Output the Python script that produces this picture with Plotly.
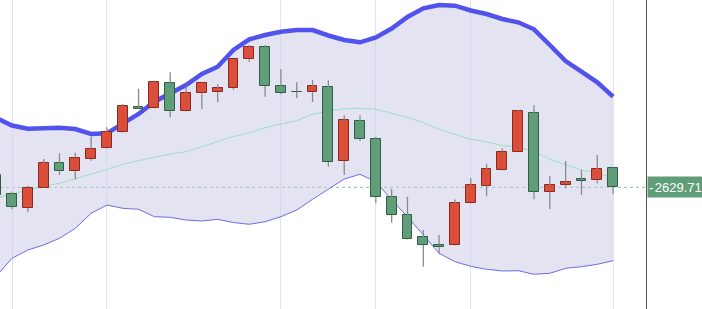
import plotly.graph_objects as go

# candle index (-1 is the partially visible first candle)
idx = list(range(-1, 39))

opens = [2635.86, 2626.21, 2619.51, 2629.61, 2641.71, 2637.71, 2644.01, 2649.51, 2657.51, 2669.86,
         2669.21, 2682.01, 2667.71, 2676.71, 2677.21, 2679.21, 2693.71, 2699.71, 2680.51, 2677.61,
         2677.21, 2679.86, 2642.86, 2662.86, 2653.71, 2625.01, 2615.86, 2604.71, 2601.11, 2600.86,
         2621.71, 2630.51, 2638.26, 2647.36, 2666.71, 2627.51, 2630.71, 2633.71, 2633.51, 2639.51]
highs = [2637.36, 2627.51, 2630.51, 2643.86, 2646.71, 2647.01, 2655.01, 2659.71, 2671.36, 2679.01,
         2683.01, 2687.21, 2680.01, 2682.36, 2681.21, 2693.86, 2700.86, 2700.86, 2688.71, 2682.21,
         2683.36, 2683.21, 2665.71, 2665.71, 2655.01, 2628.86, 2625.01, 2608.36, 2605.86, 2623.61,
         2634.21, 2641.36, 2649.21, 2668.36, 2670.86, 2635.21, 2642.86, 2638.36, 2645.86, 2640.01]
lows = [2624.36, 2618.71, 2617.21, 2629.36, 2635.86, 2633.71, 2643.01, 2649.11, 2657.11, 2668.86,
        2669.06, 2664.71, 2667.56, 2668.71, 2672.36, 2678.36, 2692.51, 2675.01, 2676.21, 2674.21,
        2672.36, 2640.01, 2635.86, 2652.86, 2621.71, 2612.01, 2603.61, 2590.01, 2596.36, 2600.61,
        2621.56, 2625.36, 2638.11, 2647.21, 2623.71, 2618.86, 2629.21, 2625.86, 2631.71, 2626.21]
closes = [2625.86, 2620.01, 2629.56, 2641.71, 2637.71, 2644.51, 2649.01, 2657.51, 2670.36, 2669.01,
          2682.51, 2667.71, 2676.71, 2682.11, 2679.36, 2693.71, 2699.71, 2680.36, 2676.71, 2677.41,
          2680.36, 2642.36, 2663.36, 2653.71, 2625.01, 2615.86, 2603.86, 2600.86, 2599.71, 2621.71,
          2630.86, 2638.86, 2647.51, 2667.86, 2627.51, 2630.86, 2632.51, 2632.86, 2638.86, 2629.71]

upper_band = [2664.36, 2660.61, 2659.01, 2659.51, 2659.51, 2658.86, 2656.36, 2656.71, 2661.36, 2666.36,
              2672.51, 2676.71, 2680.86, 2686.36, 2690.01, 2698.36, 2703.71, 2705.86, 2707.51, 2708.36,
              2708.36, 2705.61, 2703.36, 2702.21, 2704.61, 2709.11, 2714.86, 2719.21, 2720.86, 2720.51,
              2718.11, 2716.36, 2713.86, 2712.21, 2708.71, 2700.86, 2692.86, 2687.51, 2682.21, 2675.01]
middle_band = [2624.36, 2626.36, 2628.01, 2630.36, 2631.71, 2634.21, 2636.36, 2638.71, 2641.21, 2643.01,
               2644.71, 2646.36, 2647.51, 2650.01, 2652.51, 2655.11, 2657.01, 2659.51, 2661.36, 2663.01,
               2666.21, 2667.86, 2669.01, 2669.21, 2668.71, 2666.71, 2664.71, 2662.01, 2658.71, 2656.21,
               2653.71, 2652.51, 2650.51, 2650.01, 2647.51, 2643.71, 2640.86, 2638.36, 2636.71, 2634.51]
lower_band = [2585.36, 2594.21, 2598.36, 2600.86, 2604.21, 2609.21, 2616.71, 2620.86, 2619.21, 2618.71,
              2615.01, 2614.71, 2613.36, 2612.86, 2613.71, 2612.11, 2611.21, 2612.51, 2615.01, 2618.36,
              2623.71, 2628.71, 2633.86, 2636.21, 2632.51, 2623.36, 2615.01, 2605.86, 2596.71, 2592.51,
              2590.21, 2588.71, 2587.86, 2588.01, 2586.21, 2586.71, 2589.21, 2590.01, 2591.21, 2593.01]

grid_idx = [0, 6, 17, 23, 29, 38]
last_price = 2629.71
last_label = "2629.710"

UP_FILL, UP_LINE = "#db4f3a", "#8a2a1f"
DN_FILL, DN_LINE = "#5f9e79", "#2f5e43"

X_RANGE = [-0.76, 40.08]
Y_RANGE = [2723.36 - 309 / 2, 2723.36]

fig = go.Figure()

# Bollinger band fill (base subplot)
fig.add_trace(go.Scatter(x=idx, y=lower_band, mode="lines",
                         line=dict(color="#6d6de6", width=1), hoverinfo="skip"))
fig.add_trace(go.Scatter(x=idx, y=upper_band, mode="lines", fill="tonexty",
                         fillcolor="rgba(200,200,228,0.5)",
                         line=dict(color="#5252ec", width=4.5), hoverinfo="skip"))
fig.add_trace(go.Scatter(x=idx, y=middle_band, mode="lines",
                         line=dict(color="#9edfc6", width=1), hoverinfo="skip"))

# wicks (overlay subplot, above the bands); split around the body
wx, wy = [], []
for i, o, h, l, c in zip(idx, opens, highs, lows, closes):
    top, bot = max(o, c), min(o, c)
    wx += [i, i, None, i, i, None]
    wy += [top, h, None, l, bot, None]
fig.add_trace(go.Scatter(x=wx, y=wy, mode="lines", xaxis="x2", yaxis="y2",
                         line=dict(color="#8a8a8a", width=1.3), hoverinfo="skip"))

# bodies
base, height, fills, lines = [], [], [], []
for o, c in zip(opens, closes):
    base.append(min(o, c))
    height.append(max(abs(c - o), 0.15))
    up = c >= o
    fills.append(UP_FILL if up else DN_FILL)
    lines.append(UP_LINE if up else DN_LINE)
fig.add_trace(go.Bar(x=idx, y=height, base=base, width=0.62, xaxis="x2", yaxis="y2",
                     marker=dict(color=fills, line=dict(color=lines, width=1)),
                     hoverinfo="skip"))

fig.add_shape(type="line", xref="paper", x0=0, x1=1, yref="y", y0=last_price, y1=last_price,
              line=dict(color="#86c2a6", width=1, dash="dot"), layer="between")

fig.add_annotation(xref="paper", x=1, xanchor="left", xshift=1, yref="y", y=last_price,
                   yanchor="middle", text=last_label, showarrow=False,
                   font=dict(family="Liberation Sans, Arial", size=13, color="white"),
                   bgcolor="#5f9e79", borderpad=1, width=60, height=18, align="right")
fig.add_annotation(xref="paper", x=1, xanchor="left", xshift=1, yref="y", y=last_price,
                   yanchor="middle", text="-", showarrow=False,
                   font=dict(family="Liberation Sans, Arial", size=13, color="white"))

fig.update_layout(
    width=702, height=309,
    margin=dict(l=0, r=56, t=0, b=0),
    paper_bgcolor="white", plot_bgcolor="white",
    showlegend=False, bargap=0, barmode="overlay",
    xaxis=dict(range=X_RANGE, tickvals=grid_idx, showticklabels=False,
               showgrid=True, gridcolor="#dfe6ee", gridwidth=1, zeroline=False,
               showline=False, ticks=""),
    yaxis=dict(range=Y_RANGE, side="right", showgrid=False,
               showticklabels=False, zeroline=False, showline=True,
               linecolor="#555555", linewidth=1, ticks=""),
    xaxis2=dict(range=X_RANGE, overlaying="x", visible=False),
    yaxis2=dict(range=Y_RANGE, overlaying="y", visible=False),
)

fig.write_html("out.html", config={"displayModeBar": False})
